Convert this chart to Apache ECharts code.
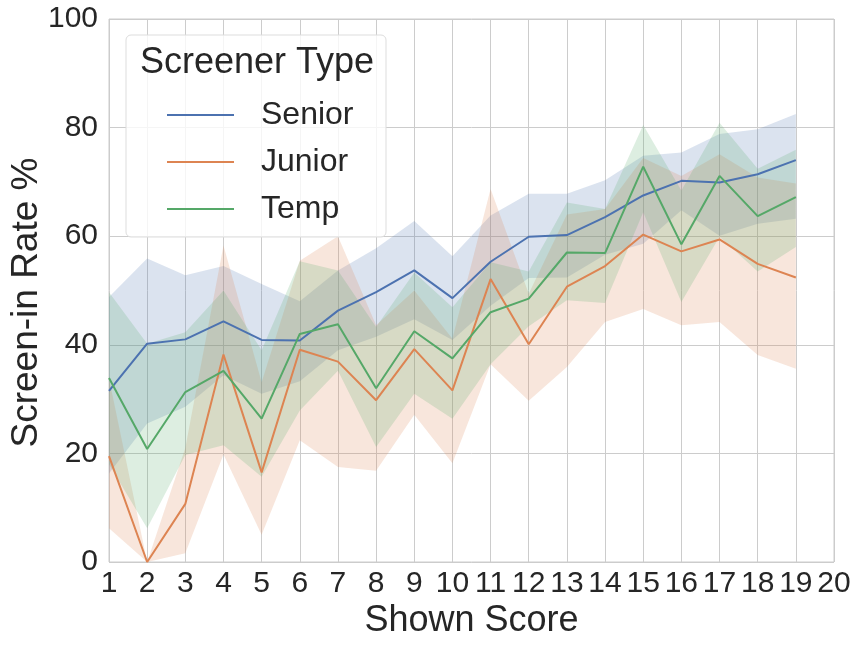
<!DOCTYPE html>
<html>
<head>
<meta charset="utf-8">
<script src="https://cdn.jsdelivr.net/npm/echarts@6/dist/echarts.min.js"></script>
<style>html,body{margin:0;padding:0;background:#fff;}#chart{width:859px;height:647px;}</style>
</head>
<body>
<div id="chart"></div>
<script>
const categories = ['1','2','3','4','5','6','7','8','9','10','11','12','13','14','15','16','17','18','19','20'];
const yTicks = [0, 20, 40, 60, 80, 100];

const seniorMean  = [31.5, 40.2, 41.0, 44.3, 40.9, 40.8, 46.3, 49.7, 53.7, 48.6, 55.3, 59.9, 60.2, 63.5, 67.5, 70.2, 69.9, 71.4, 74.0];
const seniorUpper = [48.8, 55.9, 52.8, 54.5, 51.2, 48.0, 53.7, 57.8, 62.8, 56.3, 63.8, 67.8, 67.8, 70.3, 74.8, 75.4, 78.8, 79.7, 82.5];
const seniorLower = [16.3, 25.5, 28.6, 34.4, 31.0, 33.3, 39.0, 41.5, 44.7, 40.9, 47.2, 52.3, 52.4, 56.6, 58.6, 64.8, 60.1, 62.3, 63.2];

const juniorMean  = [19.5, 0.0, 10.7, 38.2, 16.5, 39.1, 36.9, 29.8, 39.2, 31.6, 52.1, 40.1, 50.7, 54.5, 60.3, 57.2, 59.4, 54.9, 52.4];
const juniorUpper = [33.8, 0.0, 21.0, 58.3, 33.1, 55.5, 60.0, 43.6, 50.0, 41.1, 68.7, 49.4, 64.0, 65.0, 74.4, 71.1, 75.1, 70.8, 69.7];
const juniorLower = [6.2, 0.0, 1.6, 19.8, 5.0, 22.4, 17.5, 16.8, 27.1, 18.2, 36.4, 29.7, 35.9, 44.2, 46.6, 43.6, 44.2, 38.1, 35.6];

const tempMean  = [33.9, 20.8, 31.3, 35.2, 26.4, 42.0, 43.8, 32.0, 42.5, 37.5, 46.0, 48.5, 57.0, 56.9, 72.8, 58.5, 71.1, 63.7, 67.2];
const tempUpper = [49.7, 40.2, 42.3, 50.0, 39.0, 55.4, 53.7, 43.3, 53.3, 46.9, 55.2, 53.5, 66.2, 65.0, 80.5, 68.4, 80.9, 72.4, 75.9];
const tempLower = [18.0, 6.2, 19.7, 21.5, 15.7, 27.9, 35.2, 21.2, 31.0, 26.4, 36.4, 43.4, 48.2, 47.7, 64.4, 47.9, 59.9, 53.5, 58.0];

const groups = [
  {name: 'Senior', color: '#4c72b0', mean: seniorMean, upper: seniorUpper, lower: seniorLower},
  {name: 'Junior', color: '#dd8452', mean: juniorMean, upper: juniorUpper, lower: juniorLower},
  {name: 'Temp',   color: '#55a868', mean: tempMean,   upper: tempUpper,   lower: tempLower}
];

const FONT = '"Liberation Sans", Arial, sans-serif';
const TXT = '#262626';

const series = [];
groups.forEach(function (g, i) {
  series.push({
    name: g.name + ' lower', type: 'line', stack: 'band' + i, data: g.lower,
    symbol: 'none', lineStyle: {opacity: 0, width: 0}, silent: true, z: 1
  });
  series.push({
    name: g.name + ' band', type: 'line', stack: 'band' + i,
    data: g.upper.map(function (u, k) { return +(u - g.lower[k]).toFixed(2); }),
    symbol: 'none', lineStyle: {opacity: 0, width: 0}, silent: true, z: 1,
    areaStyle: {color: g.color, opacity: 0.2}
  });
});
groups.forEach(function (g) {
  series.push({
    name: g.name, type: 'line', data: g.mean, symbol: 'none', z: 3,
    itemStyle: {color: g.color},
    lineStyle: {color: g.color, width: 2}
  });
});

const chart = echarts.init(document.getElementById('chart'), null, {renderer: 'canvas'});
chart.setOption({
  animation: false,
  backgroundColor: '#ffffff',
  grid: {left: 109, right: 25, top: 19, bottom: 85, show: true, borderColor: '#cccccc', borderWidth: 1,
         containLabel: false, outerBoundsMode: 'none'},
  xAxis: {
    type: 'category', data: categories, boundaryGap: false,
    name: 'Shown Score', nameLocation: 'middle', nameGap: 41, nameMoveOverlap: false,
    nameTextStyle: {fontFamily: FONT, fontSize: 36, color: TXT},
    axisLine: {show: false}, axisTick: {show: false},
    axisLabel: {interval: 0, margin: 7, fontFamily: FONT, fontSize: 30, color: TXT},
    splitLine: {show: true, interval: 0, lineStyle: {color: '#cccccc', width: 1}}
  },
  yAxis: {
    type: 'value', min: yTicks[0], max: yTicks[yTicks.length - 1], interval: 20,
    name: 'Screen-in Rate %', nameLocation: 'middle', nameGap: 64, nameMoveOverlap: false,
    nameTextStyle: {fontFamily: FONT, fontSize: 37, color: TXT, padding: [0, 24, 0, 0]},
    axisLine: {show: false}, axisTick: {show: false},
    axisLabel: {margin: 11, fontFamily: FONT, fontSize: 30, color: TXT},
    splitLine: {show: true, lineStyle: {color: '#cccccc', width: 1}}
  },
  legend: {
    data: groups.map(function (g) { return g.name; }),
    orient: 'vertical', left: 162, top: 94, z: 100,
    icon: 'rect', itemWidth: 67, itemHeight: 2, itemGap: 15,
    textStyle: {fontFamily: FONT, fontSize: 32, color: TXT, lineHeight: 32, padding: [0, 0, 0, 22]},
    selectedMode: false
  },
  graphic: [
    {type: 'rect', z: 90, shape: {x: 126, y: 35, width: 260, height: 202, r: 5},
     style: {fill: 'rgba(255,255,255,0.8)', stroke: '#dddddd', lineWidth: 1}},
    {type: 'text', z: 95, x: 140, y: 63,
     style: {text: 'Screener Type', fontFamily: FONT, fontSize: 36, fill: TXT, verticalAlign: 'middle', align: 'left'}}
  ],
  series: series
});
</script>
</body>
</html>
